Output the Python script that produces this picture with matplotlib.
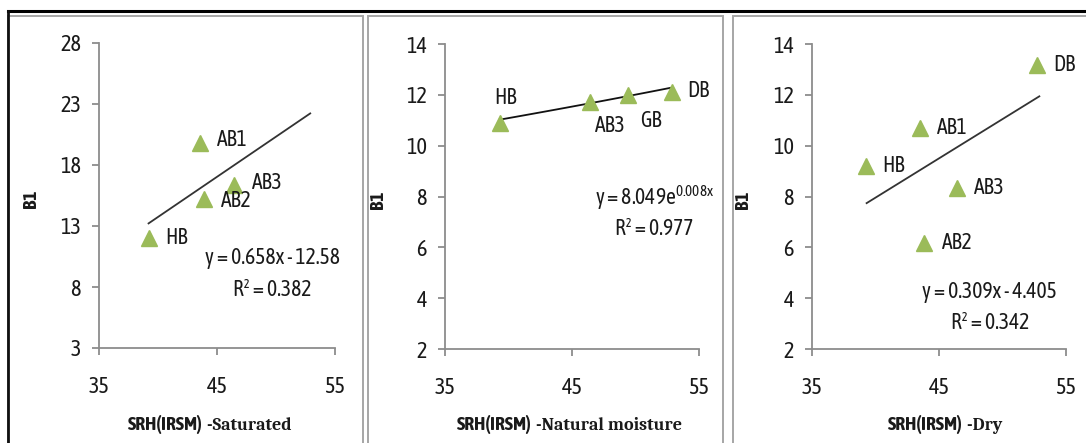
import numpy as np
import matplotlib.pyplot as plt
from matplotlib import font_manager as fm
from matplotlib.patches import Rectangle
from matplotlib.lines import Line2D

# ---- data ----
sat_names = ["HB", "AB1", "AB2", "AB3"]
sat_x = [39.2, 43.6, 43.9, 46.4]
sat_y = [12.0, 19.8, 15.2, 16.4]
sat_fit = (0.658, -12.58)          # linear: a*x + b
sat_fit_range = (39.2, 52.9)
sat_eq = ["y = 0.658x - 12.58", "R\u00b2 = 0.382"]

nat_names = ["HB", "AB3", "GB", "DB"]
nat_x = [39.3, 46.4, 49.4, 52.9]
nat_y = [10.9, 11.7, 12.0, 12.1]
nat_fit = (8.049, 0.008)           # exponential: a*exp(b*x)
nat_fit_range = (39.3, 52.9)
nat_eq = [r"y = 8.049e$^{\mathregular{0.008x}}$", "R\u00b2 = 0.977"]

dry_names = ["HB", "AB1", "AB3", "AB2", "DB"]
dry_x = [39.25, 43.5, 46.4, 43.8, 52.7]
dry_y = [9.2, 10.7, 8.33, 6.17, 13.17]
dry_fit = (0.309, -4.405)
dry_fit_range = (39.3, 52.9)
dry_eq = ["y = 0.309x - 4.405", "R\u00b2 = 0.342"]

x_ticks = [35, 45, 55]
sat_yticks = [3, 8, 13, 18, 23, 28]
nm_yticks = [2, 4, 6, 8, 10, 12, 14]

installed = {f.name for f in fm.fontManager.ttflist}


def pick(cands):
    for c in cands:
        if c in installed:
            return c
    return 'DejaVu Sans'


NARROW = pick(['Asap Condensed', 'Archivo Narrow', 'Barlow Semi Condensed', 'Carlito'])
SERIF = pick(['Caladea', 'Tinos', 'Liberation Serif', 'DejaVu Serif'])
plt.rcParams['font.family'] = [NARROW, 'DejaVu Sans']
plt.rcParams['mathtext.fontset'] = 'custom'
plt.rcParams['mathtext.rm'] = NARROW

GREEN = '#9bbb59'
AXC = '#8c8c8c'
TXT = '#1a1a1a'
FS = 15.5
W, H = 1086, 443

fig = plt.figure(figsize=(W / 100, H / 100), dpi=100)


def px_axes(l, r, t, b):
    return fig.add_axes([l / W, 1 - b / H, (r - l) / W, (b - t) / H])


def style(ax, ylim, yticks, ylab_x):
    ax.set_xlim(35, 55)
    ax.set_ylim(*ylim)
    ax.set_xticks(x_ticks)
    ax.set_yticks(yticks)
    for s in ['top', 'right']:
        ax.spines[s].set_visible(False)
    for s in ['left', 'bottom']:
        ax.spines[s].set_color(AXC)
        ax.spines[s].set_linewidth(1.3)
    ax.tick_params(axis='both', colors=AXC, length=5, width=1.3,
                   labelsize=16, labelcolor=TXT)
    ax.tick_params(axis='x', pad=15)
    ax.tick_params(axis='y', pad=8)
    ax.set_ylabel('B1', fontsize=14, fontweight='bold', color=TXT)
    ax.yaxis.set_label_coords(ylab_x, 0.49)
    ax.patch.set_alpha(0)


def points(ax, xs, ys, names, offsets):
    ax.plot(xs, ys, '^', color=GREEN, ms=11, mec=GREEN, zorder=3)
    for x, y, n, (dx, dy, ha) in zip(xs, ys, names, offsets):
        ax.annotate(n, (x, y), xytext=(dx, dy), textcoords='offset points',
                    ha=ha, va='center', fontsize=FS, color=TXT)


# ---- frames ----
for l, r in [(8, 363), (368, 723), (733, 1090)]:
    fig.patches.append(Rectangle((l / W, -2 / H), (r - l) / W, (442 - 13) / H,
                                 transform=fig.transFigure, fill=False,
                                 ec='#a6a6a6', lw=1.4))
fig.lines.append(Line2D([8 / W, 1], [1 - 11 / H, 1 - 11 / H], transform=fig.transFigure,
                        color='black', lw=2.2))
fig.lines.append(Line2D([8 / W, 8 / W], [0, 1 - 11 / H], transform=fig.transFigure,
                        color='#111111', lw=2.0))

# ---- panel 1: saturated ----
ax1 = px_axes(99, 335, 43, 348)
style(ax1, (3, 28), sat_yticks, -0.25)
xx = np.linspace(*sat_fit_range, 2)
ax1.plot(xx, sat_fit[0] * xx + sat_fit[1], color='#333333', lw=1.3)
points(ax1, sat_x, sat_y, sat_names,
       [(12, 0, 'left'), (12, 2, 'left'), (12, -1, 'left'), (13, 1, 'left')])
ax1.text(49.7, 10.4, sat_eq[0], ha='center', va='center', fontsize=FS, color=TXT)
ax1.text(49.7, 7.75, sat_eq[1], ha='center', va='center', fontsize=FS, color=TXT)

# ---- panel 2: natural moisture ----
ax2 = px_axes(445, 699, 44, 349)
style(ax2, (2, 14), nm_yticks, -0.228)
xx = np.linspace(*nat_fit_range, 50)
ax2.plot(xx, nat_fit[0] * np.exp(nat_fit[1] * xx), color='#111111', lw=1.3)
points(ax2, nat_x, nat_y, nat_names,
       [(4, 18, 'center'), (4, -17, 'left'), (9, -19, 'left'), (11, 1, 'left')])
ax2.text(51.5, 7.94, nat_eq[0], ha='center', va='center', fontsize=FS, color=TXT)
ax2.text(51.5, 6.72, nat_eq[1], ha='center', va='center', fontsize=FS, color=TXT)

# ---- panel 3: dry ----
ax3 = px_axes(812, 1066, 44, 349)
style(ax3, (2, 14), nm_yticks, -0.236)
xx = np.linspace(*dry_fit_range, 2)
ax3.plot(xx, dry_fit[0] * xx + dry_fit[1], color='#333333', lw=1.3)
points(ax3, dry_x, dry_y, dry_names,
       [(12, 0, 'left'), (12, 0, 'left'), (12, 0, 'left'), (13, 0, 'left'), (12, 0, 'left')])
ax3.text(49.0, 4.24, dry_eq[0], ha='center', va='center', fontsize=FS, color=TXT)
ax3.text(49.0, 3.02, dry_eq[1], ha='center', va='center', fontsize=FS, color=TXT)

# ---- x labels (bold sans + serif part) ----
for xpx, rest in [(203, '-Saturated'), (532, '-Natural moisture'), (963, '-Dry')]:
    fig.text(xpx / W, 1 - 430 / H, 'SRH(IRSM)', ha='right', va='baseline',
             fontsize=14, fontweight='bold', color=TXT)
    fig.text(xpx / W, 1 - 430 / H, ' ' + rest, ha='left', va='baseline',
             fontsize=13, fontweight='bold', color=TXT, family=[SERIF, 'DejaVu Serif'])

fig.savefig('out.png', dpi=100)
